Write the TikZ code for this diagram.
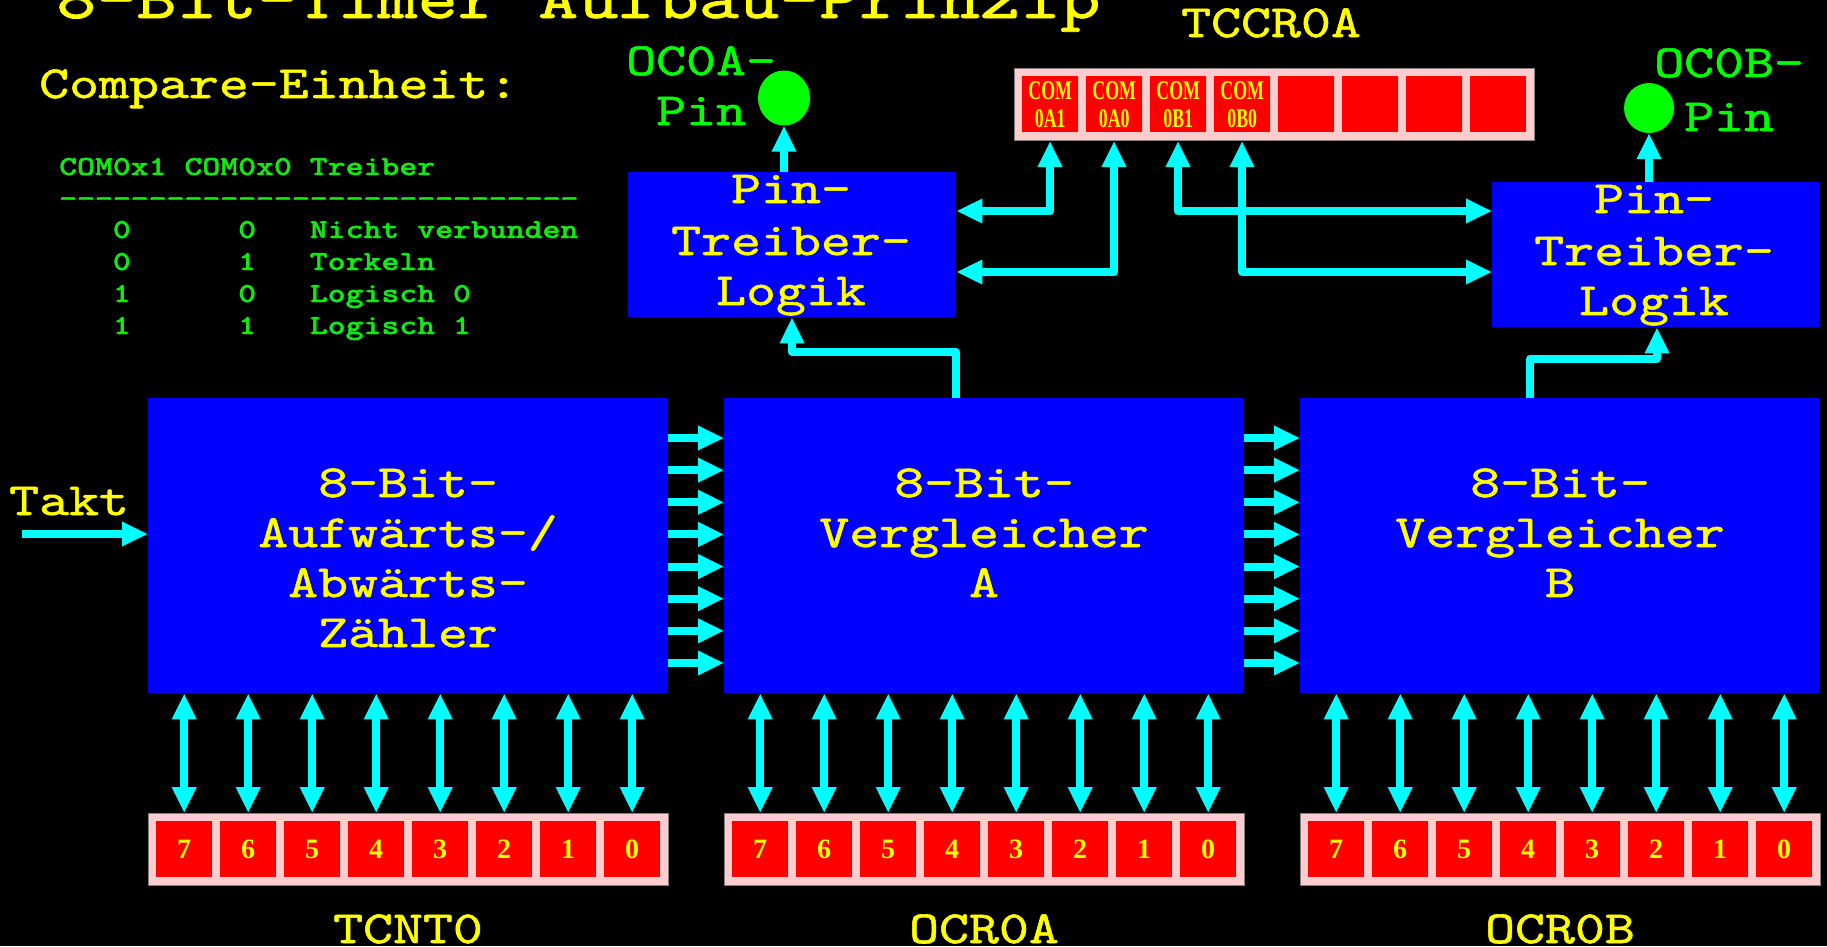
\documentclass[tikz,border=0pt]{standalone}
\usepackage{fontspec}
\usetikzlibrary{arrows.meta,shapes.geometric}
\newfontfamily\cmono{lmmono10-regular}[Extension=.otf, FakeStretch=1.24, FakeBold=1.2]
\newfontfamily\tabfont{lmmonolt10-bold}[Extension=.otf, FakeStretch=1.24, FakeBold=1.5]
\newfontfamily\cellfont{Liberation Serif}[FakeStretch=0.66]
\newfontfamily\digfont{Liberation Serif}
\definecolor{myyellow}{RGB}{255,255,0}
\definecolor{myblue}{RGB}{0,0,255}
\definecolor{mycyan}{RGB}{0,255,255}
\definecolor{mygreen}{RGB}{0,255,0}
\definecolor{tabgreen}{RGB}{20,232,20}
\definecolor{myred}{RGB}{255,0,0}
\definecolor{hatch}{RGB}{255,205,205}
\begin{document}
\begin{tikzpicture}[x=1pt,y=-1pt,
  blk/.style={fill=myblue, inner sep=0pt, minimum width=520pt, minimum height=295pt, anchor=north west},
  pinbox/.style={fill=myblue, inner sep=0pt, minimum width=328pt, minimum height=145pt, anchor=north west},
  ytxt/.style={text=myyellow, inner sep=0pt, font=\cmono\fontsize{46}{50}\selectfont},
  gtxt/.style={text=mygreen, inner sep=0pt, font=\cmono\fontsize{46}{50}\selectfont, anchor=base west},
  ttxt/.style={text=tabgreen, inner sep=0pt, font=\tabfont\fontsize{27.5}{30}\selectfont, anchor=base west},
  regframe/.style={fill=hatch, draw=gray, line width=1pt, inner sep=0pt, minimum width=520pt, minimum height=72pt, anchor=north west},
  cellbox/.style={fill=myred, inner sep=0pt, minimum width=56pt, minimum height=56pt, anchor=north west, text=myyellow},
  comcell/.style={cellbox, align=center, font=\cellfont\bfseries\fontsize{27}{28}\selectfont},
  digcell/.style={cellbox, font=\digfont\bfseries\fontsize{28}{30}\selectfont},
  arr/.style={draw=mycyan, line width=8pt, line join=round, -{Triangle[length=26pt,width=23pt]}},
  darr/.style={draw=mycyan, line width=8pt, line join=round, {Triangle[length=26pt,width=23pt]}-{Triangle[length=26pt,width=23pt]}}
]
\useasboundingbox (0,0) rectangle (1827,946);
\fill[black] (0,0) rectangle (1827,946);
\clip (0,0) rectangle (1827,946);

% title and headings
\node[ytxt, anchor=base west, font=\cmono\fontsize{61.7}{62}\selectfont] (title) at (56,18) {8-Bit-Timer Aufbau-Prinzip};
\node[ytxt, anchor=base west] (cmpL) at (39,98) {Compare-Einheit:};
\node[ytxt, anchor=base west] (tccrL) at (1181,37) {TCCR0A};

% table
\node[ttxt] (tab0) at (59,175) {COM0x1 COM0x0 Treiber};
\node[ttxt] (tab1) at (59,207) {-{}-{}-{}-{}-{}-{}-{}-{}-{}-{}-{}-{}-{}-{}-{}-{}-{}-{}-{}-{}-{}-{}-{}-{}-{}-{}-{}-{}-{}};
\node[ttxt] (tab2) at (59,238) {~~~0~~~~~~0~~~Nicht verbunden};
\node[ttxt] (tab3) at (59,270) {~~~0~~~~~~1~~~Torkeln};
\node[ttxt] (tab4) at (59,302) {~~~1~~~~~~0~~~Logisch 0};
\node[ttxt] (tab5) at (59,334) {~~~1~~~~~~1~~~Logisch 1};

% main blocks
\node[blk] (cnt) at (148,398) {};
\node[blk] (cmpA) at (724,398) {};
\node[blk] (cmpB) at (1300,398) {};
\node[ytxt, anchor=base] (cntT1) at (408,497) {8-Bit-};
\node[ytxt, anchor=base] (cntT2) at (408,547) {Aufwärts-/};
\node[ytxt, anchor=base] (cntT3) at (408,597) {Abwärts-};
\node[ytxt, anchor=base] (cntT4) at (408,647) {Zähler};
\node[ytxt, anchor=base] (caT1) at (984,497) {8-Bit-};
\node[ytxt, anchor=base] (caT2) at (984,547) {Vergleicher};
\node[ytxt, anchor=base] (caT3) at (984,597) {A};
\node[ytxt, anchor=base] (cbT1) at (1560,497) {8-Bit-};
\node[ytxt, anchor=base] (cbT2) at (1560,547) {Vergleicher};
\node[ytxt, anchor=base] (cbT3) at (1560,597) {B};

% pin driver blocks
\node[pinbox] (pinA) at (628,172) {};
\node[pinbox] (pinB) at (1492,182) {};
\node[ytxt, anchor=base] (paT1) at (791,203) {Pin-};
\node[ytxt, anchor=base] (paT2) at (791,255) {Treiber-};
\node[ytxt, anchor=base] (paT3) at (791,305) {Logik};
\node[ytxt, anchor=base] (pbT1) at (1654,213) {Pin-};
\node[ytxt, anchor=base] (pbT2) at (1654,265) {Treiber-};
\node[ytxt, anchor=base] (pbT3) at (1654,315) {Logik};

% output pins
\node[ellipse, fill=mygreen, minimum width=52pt, minimum height=55pt, inner sep=0pt] (oca) at (784,98) {};
\node[circle, fill=mygreen, minimum size=50pt, inner sep=0pt] (ocb) at (1649,108) {};
\node[gtxt] (ocaT1) at (626,75) {OC0A-};
\node[gtxt] (ocaT2) at (656,125) {Pin};
\node[gtxt] (ocbT1) at (1654,77) {OC0B-};
\node[gtxt] (ocbT2) at (1684,131) {Pin};
\draw[arr] (pinA.north -| oca) -- (oca.south);
\draw[arr] (pinB.north -| ocb) -- (ocb.south);

% TCCR0A register
\node[regframe] (tccr) at (1014,68) {};
\node[comcell] (t0) at (1022,76) {COM\\0A1};
\node[comcell] (t1) at (1086,76) {COM\\0A0};
\node[comcell] (t2) at (1150,76) {COM\\0B1};
\node[comcell] (t3) at (1214,76) {COM\\0B0};
\node[cellbox] (t4) at (1278,76) {};
\node[cellbox] (t5) at (1342,76) {};
\node[cellbox] (t6) at (1406,76) {};
\node[cellbox] (t7) at (1470,76) {};

\coordinate (k0) at (1050,211);
\coordinate (k1) at (1114,272);
\coordinate (k2) at (1178,211);
\coordinate (k3) at (1242,272);
\draw[darr] (k0 -| pinA.east) -- (k0) -- (k0 |- tccr.south);
\draw[darr] (k1 -| pinA.east) -- (k1) -- (k1 |- tccr.south);
\draw[darr] (k2 |- tccr.south) -- (k2) -- (k2 -| pinB.west);
\draw[darr] (k3 |- tccr.south) -- (k3) -- (k3 -| pinB.west);

% comparator outputs to pin drivers
\coordinate (m1) at (956,352);
\coordinate (m2) at (792,352);
\draw[arr] (m1 |- cmpA.north) -- (m1) -- (m2) -- (m2 |- pinA.south);
\coordinate (n1) at (1530,359);
\coordinate (n2) at (1657,359);
\draw[arr] (n1 |- cmpB.north) -- (n1) -- (n2) -- (n2 |- pinB.south);

% clock input
\node[ytxt, anchor=base west] (takt) at (9,515) {Takt};
\coordinate (taktS) at (22,534);
\draw[arr] (taktS) -- (taktS -| cnt.west);

% data buses
\foreach \i in {0,...,7} {
  \path (cnt.north east) ++(0,40+32.14*\i) coordinate (bA\i);
  \draw[arr] (bA\i) -- (bA\i -| cmpA.west);
  \path (cmpA.north east) ++(0,40+32.14*\i) coordinate (bB\i);
  \draw[arr] (bB\i) -- (bB\i -| cmpB.west);
}

% bottom registers
\foreach \r/\x/\b in {rT/148/cnt, rA/724/cmpA, rB/1300/cmpB} {
  \node[regframe] (\r) at (\x,813) {};
  \foreach \i in {0,...,7} {
    \pgfmathtruncatemacro\d{7-\i}
    \node[digcell] (\r-\i) at (\x+8+64*\i,821) {\d};
    \draw[darr] (\r-\i.north |- \b.south) -- (\r-\i.north |- \r.north);
  }
}
\node[ytxt, anchor=base] (lT) at (408,943) {TCNT0};
\node[ytxt, anchor=base] (lA) at (984,943) {OCR0A};
\node[ytxt, anchor=base] (lB) at (1560,943) {OCR0B};
\end{tikzpicture}
\end{document}
